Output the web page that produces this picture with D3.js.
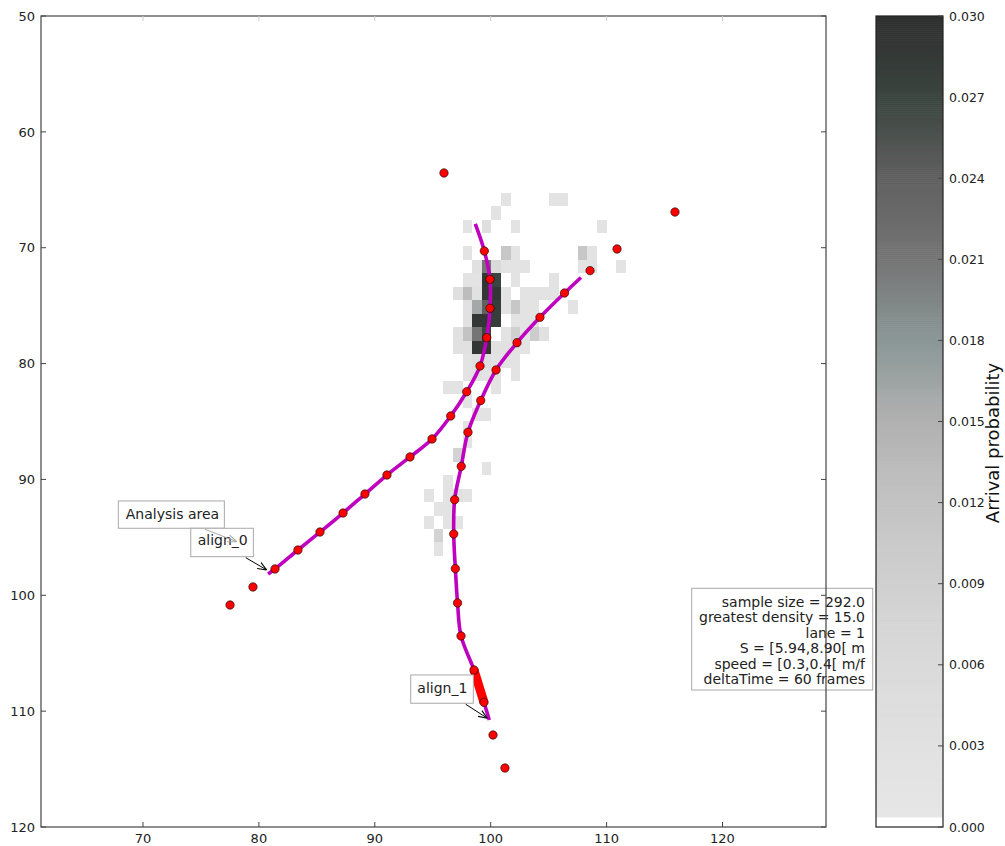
<!DOCTYPE html>
<html><head><meta charset="utf-8">
<script src="https://cdn.jsdelivr.net/npm/d3@7"></script>
<style>body{margin:0;background:#fff} svg{display:block} text{font-family:"DejaVu Sans",sans-serif}</style>
</head><body><svg id="c" width="1005" height="846"></svg>
<script>
// ---- data ----
const xDomain=[61.2,128.93];
const yDomain=[50,120];
const xTicks=[70,80,90,100,110,120];
const yTicks=[50,60,70,80,90,100,110,120];
const cbDomain=[0,0.03];
const cbTicks=[0,0.003,0.006,0.009,0.012,0.015,0.018,0.021,0.024,0.027,0.030];
const cbLabel="Arrival probability";

// trajectory align_0 (first/last entries are line ends, others have markers)
const align0X=[80.79,81.39,83.37,85.27,87.26,89.15,91.05,93.04,94.94,96.55,97.93,99.08,99.66,99.94,99.94,99.45,98.67];
const align0Y=[98.16,97.73,96.09,94.54,92.90,91.26,89.62,88.06,86.51,84.52,82.43,80.21,77.77,75.23,72.73,70.28,67.95];
// trajectory align_1
const align1X=[107.79,106.37,104.25,102.27,100.46,99.14,98.04,97.46,96.89,96.81,96.95,97.14,97.44,98.56,99.42,99.88];
const align1Y=[72.57,73.91,76.01,78.20,80.55,83.19,85.93,88.87,91.75,94.71,97.70,100.66,103.51,106.45,109.24,110.76];
// highlighted segment on align_1
const highlightX=[98.56,99.42];
const highlightY=[106.45,109.24];
// isolated observations
const extraX=[95.97,115.90,110.90,108.57,79.49,77.51,100.20,101.23];
const extraY=[63.55,66.92,70.11,71.98,99.28,100.84,112.06,114.91];

// arrival histogram bins: [column, row, probability]
const gridX0=94.27, gridDX=0.8283, gridY0=65.25, gridDY=1.161;
const heatCells=[
[8,0,.002],[13,0,.002],[14,0,.002],
[7,1,.002],
[4,2,.002],[6,2,.004],[9,2,.002],[18,2,.002],
[4,4,.002],[8,4,.011],[9,4,.002],[16,4,.011],[17,4,.002],
[5,5,.003],[6,5,.021],[7,5,.006],[8,5,.002],[9,5,.002],[10,5,.002],[16,5,.002],[17,5,.002],[20,5,.002],
[4,6,.002],[5,6,.002],[6,6,.029],[7,6,.027],[9,6,.002],[13,6,.002],
[3,7,.004],[4,7,.013],[5,7,.003],[6,7,.029],[7,7,.029],[8,7,.002],[10,7,.002],[11,7,.002],[12,7,.002],[13,7,.002],
[4,8,.003],[5,8,.016],[6,8,.024],[7,8,.028],[8,8,.002],[9,8,.011],[10,8,.002],[11,8,.002],[15,8,.002],
[4,9,.003],[5,9,.029],[6,9,.029],[7,9,.028],[9,9,.002],[10,9,.002],[11,9,.002],
[3,10,.003],[4,10,.012],[5,10,.021],[6,10,.027],[8,10,.002],[9,10,.009],[10,10,.002],[11,10,.010],[12,10,.003],
[3,11,.003],[4,11,.003],[5,11,.029],[6,11,.029],[7,11,.003],[8,11,.003],[9,11,.002],[10,11,.002],
[4,12,.002],[5,12,.004],[6,12,.004],[7,12,.002],[8,12,.002],[9,12,.002],
[4,13,.002],[5,13,.003],[6,13,.002],[7,13,.002],[9,13,.002],
[2,14,.002],[3,14,.002],[7,14,.002],
[4,15,.002],
[5,16,.002],[6,16,.002],
[4,17,.002],[4,18,.002],
[3,19,.008],
[6,20,.002],
[2,21,.002],
[0,22,.002],[2,22,.002],[3,22,.003],[4,22,.002],
[1,23,.002],[2,23,.002],
[0,24,.002],[2,24,.002],[3,24,.002],
[1,25,.008],
[1,26,.002]
];

const infoLines=["sample size = 292.0","greatest density = 15.0","lane = 1","S = [5.94,8.90[ m","speed = [0.3,0.4[ m/f","deltaTime = 60 frames"];
const annotA0=["Analysis area","align_0"];
const annotA1="align_1";

// ---- drawing ----
const svg=d3.select("#c");
const P={l:41,r:826,t:16,b:827};
const CB={l:876,r:943,t:16,b:827};
const x=d3.scaleLinear().domain(xDomain).range([P.l,P.r]);
const y=d3.scaleLinear().domain(yDomain).range([P.t,P.b]);
const cmap=d3.scaleLinear()
 .domain([0.0005,0.003,0.006,0.009,0.012,0.015,0.018,0.021,0.024,0.027,0.030])
 .range(["#e6e6e6","#e1e1e1","#dadada","#d0d0d0","#c3c3c3","#b1b1b1","#8b9797","#757575","#606060","#3b4540","#2e2e2e"])
 .clamp(true);
const colorOf=v=>v<0.0004?"#ffffff":cmap(v);

svg.append("defs").append("clipPath").attr("id","pc").append("rect")
 .attr("x",P.l).attr("y",P.t).attr("width",P.r-P.l).attr("height",P.b-P.t);
const defs=svg.select("defs");
function marker(id,col){
 defs.append("marker").attr("id",id).attr("viewBox","0 0 10 10").attr("refX",10).attr("refY",5)
  .attr("markerWidth",9).attr("markerHeight",9).attr("markerUnits","userSpaceOnUse").attr("orient","auto")
  .append("path").attr("d","M0,1 L10,5 L0,9").attr("fill","none").attr("stroke",col).attr("stroke-width",1.2);
}
marker("ak","#000");marker("ag","#aaa");

const g=svg.append("g").attr("clip-path","url(#pc)");

// heat cells
g.selectAll("rect.cell").data(heatCells).join("rect").attr("class","cell")
 .attr("x",d=>x(gridX0+d[0]*gridDX))
 .attr("y",d=>y(gridY0+d[1]*gridDY))
 .attr("width",d=>x(gridX0+(d[0]+1)*gridDX)-x(gridX0+d[0]*gridDX))
 .attr("height",d=>y(gridY0+(d[1]+1)*gridDY)-y(gridY0+d[1]*gridDY))
 .attr("fill",d=>colorOf(d[2])).attr("shape-rendering","crispEdges");

const line=d3.line().x(d=>x(d[0])).y(d=>y(d[1])).curve(d3.curveCatmullRom.alpha(0.5));
const tr0=align0X.map((v,i)=>[v,align0Y[i]]);
const tr1=align1X.map((v,i)=>[v,align1Y[i]]);
[tr0,tr1].forEach(t=>{
 g.append("path").attr("d",line(t)).attr("fill","none").attr("stroke","#bf00bf").attr("stroke-width",3.6);
});
// highlighted segment
g.append("path").attr("d",d3.line().x(d=>x(d[0])).y(d=>y(d[1]))(highlightX.map((v,i)=>[v,highlightY[i]])))
 .attr("stroke","#ff0000").attr("stroke-width",9).attr("fill","none");

const dots=[...tr0.slice(1,-1),...tr1.slice(1,-1),...extraX.map((v,i)=>[v,extraY[i]])];
g.selectAll("circle.d").data(dots).join("circle").attr("class","d")
 .attr("cx",d=>x(d[0])).attr("cy",d=>y(d[1])).attr("r",4.2)
 .attr("fill","#ff0000").attr("stroke","#000").attr("stroke-width",0.6);

// annotations
const t0=[x(align0X[0]),y(align0Y[0])];
const t1=[x(align1X[align1X.length-1]),y(align1Y[align1Y.length-1])];
function box(bx,by,w,h,txt,tx,ty){
 svg.append("rect").attr("x",bx).attr("y",by).attr("width",w).attr("height",h)
  .attr("fill","#fff").attr("stroke","#a8a8a8").attr("stroke-width",1);
 svg.append("text").attr("x",tx).attr("y",ty).attr("font-size",14).attr("fill","#222").text(txt);
}
box(t0[0]-149.7,t0[1]-73,106,27.3,annotA0[0],t0[0]-142.3,t0[1]-54.7);
box(t0[0]-77.3,t0[1]-45.7,62.6,28.4,annotA0[1],t0[0]-70.3,t0[1]-29);
svg.append("line").attr("x1",t0[0]-63).attr("y1",t0[1]-44.7).attr("x2",t0[0]-31.3).attr("y2",t0[1]-32.3)
 .attr("stroke","#aaa").attr("stroke-width",1).attr("marker-end","url(#ag)");
svg.append("line").attr("x1",t0[0]-22.3).attr("y1",t0[1]-16.3).attr("x2",t0[0]-1.3).attr("y2",t0[1]-4)
 .attr("stroke","#000").attr("stroke-width",1).attr("marker-end","url(#ak)");
box(t1[0]-78.6,t1[1]-45,62.6,28.3,annotA1,t1[0]-72,t1[1]-26.7);
svg.append("line").attr("x1",t1[0]-23.6).attr("y1",t1[1]-15.7).attr("x2",t1[0]-2).attr("y2",t1[1]-1.7)
 .attr("stroke","#000").attr("stroke-width",1).attr("marker-end","url(#ak)");

// info box
svg.append("rect").attr("x",691.7).attr("y",588.3).attr("width",181).attr("height",101.7)
 .attr("fill","#fff").attr("stroke","#a8a8a8").attr("stroke-width",1);
svg.append("g").selectAll("text").data(infoLines).join("text")
 .attr("x",865).attr("y",(d,i)=>606.7+i*15.5).attr("text-anchor","end").attr("font-size",14).attr("fill","#222").text(d=>d);

// frame & ticks
const ax=svg.append("g");
ax.append("rect").attr("x",P.l).attr("y",P.t).attr("width",P.r-P.l).attr("height",P.b-P.t)
 .attr("fill","none").attr("stroke","#444").attr("stroke-width",1.2);
xTicks.forEach(v=>{
 ax.append("line").attr("x1",x(v)).attr("x2",x(v)).attr("y1",P.b).attr("y2",P.b-5).attr("stroke","#444");
 ax.append("line").attr("x1",x(v)).attr("x2",x(v)).attr("y1",P.t).attr("y2",P.t+5).attr("stroke","#ccc");
 ax.append("text").attr("x",x(v)).attr("y",P.b+16).attr("text-anchor","middle").attr("font-size",13).attr("fill","#222").text(v);
});
yTicks.forEach(v=>{
 ax.append("line").attr("y1",y(v)).attr("y2",y(v)).attr("x1",P.l).attr("x2",P.l+5).attr("stroke","#444");
 ax.append("line").attr("y1",y(v)).attr("y2",y(v)).attr("x1",P.r).attr("x2",P.r-5).attr("stroke","#444");
 ax.append("text").attr("x",P.l-6).attr("y",y(v)).attr("dy","0.36em").attr("text-anchor","end").attr("font-size",13).attr("fill","#222").text(v);
});

// colorbar
const cy=d3.scaleLinear().domain(cbDomain).range([CB.b,CB.t]);
const cbg=svg.append("g");
const N=400;
d3.range(N).forEach(i=>{
 const v0=cbDomain[0]+(cbDomain[1]-cbDomain[0])*i/N, v1=cbDomain[0]+(cbDomain[1]-cbDomain[0])*(i+1)/N;
 cbg.append("rect").attr("x",CB.l).attr("width",CB.r-CB.l).attr("y",cy(v1)).attr("height",cy(v0)-cy(v1)+0.6)
  .attr("fill",colorOf((v0+v1)/2));
});
cbg.append("rect").attr("x",CB.l).attr("y",CB.t).attr("width",CB.r-CB.l).attr("height",CB.b-CB.t)
 .attr("fill","none").attr("stroke","#222").attr("stroke-width",1.2);
cbTicks.forEach(v=>{
 cbg.append("line").attr("x1",CB.r).attr("x2",CB.r-5).attr("y1",cy(v)).attr("y2",cy(v)).attr("stroke","#444");
 cbg.append("text").attr("x",CB.r+6).attr("y",cy(v)).attr("dy","0.36em").attr("font-size",12.5).attr("fill","#222").text(d3.format(".3f")(v));
});
svg.append("text").attr("transform",`translate(999,443) rotate(-90)`)
 .attr("text-anchor","middle").attr("font-family","Liberation Sans, Arial, sans-serif").attr("font-size",18).attr("fill","#111").text(cbLabel);
</script></body></html>
